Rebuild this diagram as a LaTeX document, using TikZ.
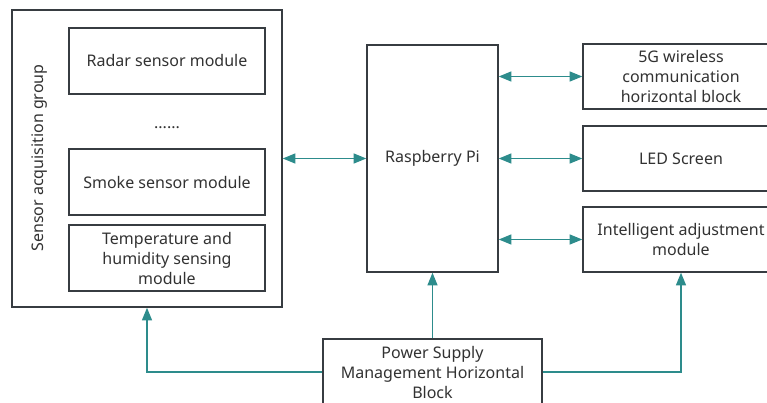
\documentclass[tikz,border=0pt]{standalone}
\usepackage{fontspec}
\setmainfont{Noto Sans}
\usepackage{xcolor}
\usetikzlibrary{positioning, arrows.meta}

\definecolor{boxline}{RGB}{55,60,65}
\definecolor{txtgray}{RGB}{50,50,50}
\definecolor{linkteal}{RGB}{45,140,140}

\tikzset{
  block/.style={draw=boxline, line width=1.1pt, fill=white, align=center,
    text=txtgray, font=\fontsize{12}{15}\selectfont, inner sep=2pt},
  modbox/.style={block, minimum width=147pt, minimum height=49.5pt},
  sidebox/.style={block, minimum width=147pt, minimum height=48.75pt},
  link/.style={draw=linkteal, line width=1.1pt,
    -{Triangle[length=9.5pt,width=7.5pt]}},
  dlink/.style={link, {Triangle[length=9.5pt,width=7.5pt]}-{Triangle[length=9.5pt,width=7.5pt]}}
}

\begin{document}
\begin{tikzpicture}[x=0.75pt, y=-0.75pt]
  \clip (0,0) rectangle (767,403);

  % sensor group
  \node[block, minimum width=202.5pt, minimum height=222.75pt] (group) at (147,158.5) {};
  \node[rotate=90, text=txtgray, font=\fontsize{12}{15}\selectfont] (grouplabel) at (40,158) {Sensor acquisition group};
  \node[modbox] (radar) at (167,61) {Radar sensor module};
  \node[text=txtgray, font=\fontsize{12}{15}\selectfont] (dots) at (167,128) {......};
  \node[modbox] (smoke) at (167,182) {Smoke sensor module};
  \node[modbox] (temp) at (167,258) {Temperature and\\humidity sensing\\module};

  % controller and outputs
  \node[block, minimum width=98.25pt, minimum height=170.25pt] (pi) at (432.5,158.5) {Raspberry Pi};
  \node[sidebox] (fiveg) at (681,76.5) {5G wireless\\communication\\horizontal block};
  \node[sidebox] (led) at (681,158.5) {LED Screen};
  \node[sidebox] (intel) at (681,239.5) {Intelligent adjustment\\module};

  % power
  \node[block, minimum width=164.25pt, minimum height=49.5pt] (power) at (432.5,372) {Power Supply\\Management Horizontal\\Block};

  \draw[dlink] (group.east) -- (pi.west);
  \draw[dlink] (pi.east |- fiveg) -- (fiveg.west);
  \draw[dlink] (pi.east) -- (led.west);
  \draw[dlink] (pi.east |- intel) -- (intel.west);

  \draw[link] (power.north) -- (pi.south);
  \draw[link] (power.west) -| (group.south);
  \draw[link] (power.east) -| (intel.south);

\end{tikzpicture}
\end{document}
